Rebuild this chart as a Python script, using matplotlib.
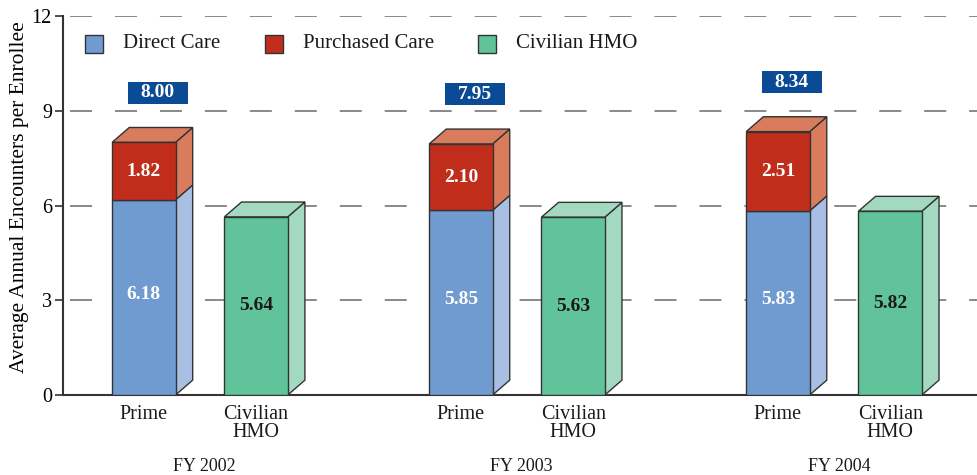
import matplotlib.pyplot as plt
from matplotlib.patches import Polygon, Rectangle

plt.rcParams['font.family'] = ['Liberation Serif', 'DejaVu Serif']

# data
years = ['FY 2002', 'FY 2003', 'FY 2004']
direct_care = [6.18, 5.85, 5.83]
purchased_care = [1.82, 2.10, 2.51]
civilian_hmo = [5.64, 5.63, 5.82]
prime_totals = [8.00, 7.95, 8.34]
yticks = [0, 3, 6, 9, 12]

# colours (front, side/top)
c_direct = ('#6f9bd1', '#a8bee2')
c_purch = ('#c02d1b', '#d97c5e')
c_hmo = ('#60c39a', '#a3d9c0')
edge = '#333333'

fig = plt.figure(figsize=(9.78, 4.75), dpi=100)
ax = fig.add_axes([63 / 978, 1 - 395 / 475, 1 - 63 / 978, 379 / 475])

ax.set_xlim(-0.432, 2.454)
ax.set_ylim(0, 12)

width = 0.2
off = 0.177
dx = 0.054   # depth in data units
dy = 0.47


def box3d(x0, y0, y1, colors, top=True):
    front, side = colors
    x1 = x0 + width
    ax.add_patch(Polygon([(x1, y0), (x1 + dx, y0 + dy), (x1 + dx, y1 + dy), (x1, y1)],
                         closed=True, fc=side, ec=edge, lw=1.0, zorder=3))
    if top:
        ax.add_patch(Polygon([(x0, y1), (x0 + dx, y1 + dy), (x1 + dx, y1 + dy), (x1, y1)],
                             closed=True, fc=side, ec=edge, lw=1.0, zorder=3))
    ax.add_patch(Rectangle((x0, y0), width, y1 - y0, fc=front, ec=edge, lw=1.0, zorder=4))


for i in range(len(years)):
    xp = i - off - width / 2
    xh = i + off - width / 2
    d = direct_care[i]
    p = purchased_care[i]
    h = civilian_hmo[i]
    box3d(xp, 0, d, c_direct, top=False)
    box3d(xp, d, d + p, c_purch)
    box3d(xh, 0, h, c_hmo)

    ax.text(i - off, d / 2 + 0.1, f'{d:.2f}', ha='center', va='center', color='white',
            fontsize=14, fontweight='bold', zorder=5)
    ax.text(i - off, d + p / 2, f'{p:.2f}', ha='center', va='center', color='white',
            fontsize=14, fontweight='bold', zorder=5)
    ax.text(i + off, h / 2, f'{h:.2f}', ha='center', va='center', color='#1a1a1a',
            fontsize=14, fontweight='bold', zorder=5)

    # total box
    bx = i - off + 0.044
    by = prime_totals[i] + 1.57
    ax.add_patch(Rectangle((bx - 0.095, by - 0.35), 0.19, 0.70, fc='#0b4a94', ec='none', zorder=4))
    ax.text(bx, by, f'{prime_totals[i]:.2f}', ha='center', va='center',
            color='white', fontsize=14, fontweight='bold', zorder=5)

    # category labels
    ax.text(i - off, -0.33, 'Prime', ha='center', va='top', fontsize=14.5, color='#1a1a1a')
    ax.text(i + off, -0.33, 'Civilian\nHMO', ha='center', va='top', fontsize=14.5, color='#1a1a1a',
            linespacing=0.9)
    ax.text(i + 0.015, -2.0, years[i], ha='center', va='top', fontsize=13, color='#1a1a1a')

# grid
for t in yticks[1:]:
    ax.plot([-0.41, 2.454], [t, t], color='#808080', lw=1.3, ls=(0, (12.2, 12.7)), zorder=1)

ax.set_yticks(yticks)
ax.set_yticklabels([str(t) for t in yticks], fontsize=14.5)
ax.tick_params(axis='y', length=6, width=1.2, color='#333333', pad=2)
ax.set_xticks([])
for s in ['top', 'right']:
    ax.spines[s].set_visible(False)
ax.spines['left'].set_linewidth(1.5)
ax.spines['left'].set_color('#333333')
ax.spines['bottom'].set_linewidth(1.5)
ax.spines['bottom'].set_color('#333333')
ax.set_ylabel('Average Annual Encounters per Enrollee', fontsize=15.5, va='center')
ax.yaxis.set_label_coords(-0.048, 0.522)

# legend
leg_items = [('Direct Care', c_direct[0]), ('Purchased Care', c_purch[0]), ('Civilian HMO', c_hmo[0])]
leg_x = [85, 265, 478]
for (name, col), lx in zip(leg_items, leg_x):
    fig.patches.append(Rectangle((lx / 978, 1 - 53 / 475), 18 / 978, 18 / 475, fc=col, ec=edge,
                                 lw=1.0, transform=fig.transFigure, figure=fig))
    fig.text((lx + 38) / 978, 1 - 44 / 475, name, ha='left', va='center', fontsize=15, color='#1a1a1a')

fig.savefig('out.png', dpi=100)
